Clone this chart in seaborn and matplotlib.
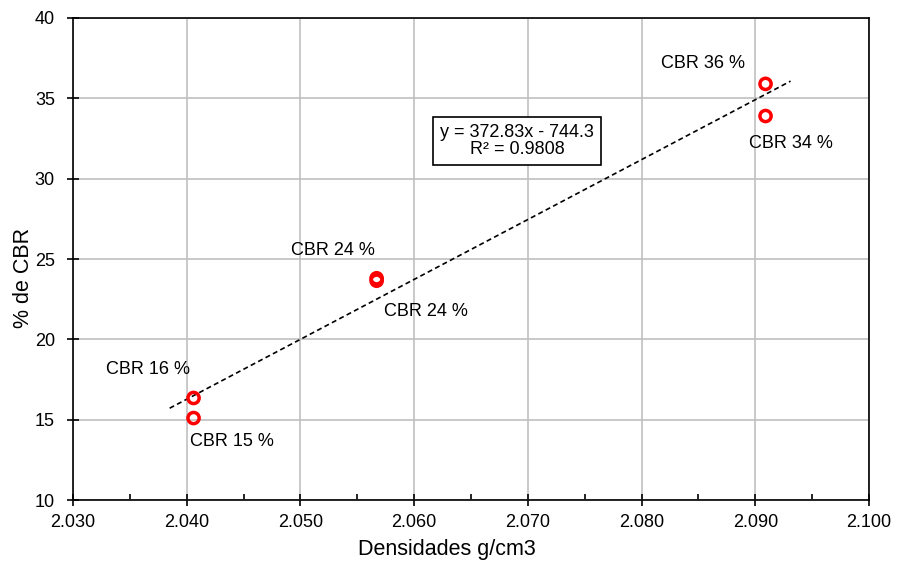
import matplotlib
matplotlib.use("Agg")
import matplotlib.pyplot as plt
import seaborn as sns
import pandas as pd
import numpy as np
from matplotlib.ticker import MultipleLocator, FuncFormatter

densidades = [2.0406, 2.0406, 2.0567, 2.0567, 2.0909, 2.0909]
cbr = [16.35, 15.1, 23.8, 23.65, 35.9, 33.9]
etiquetas = ["CBR 16 %", "CBR 15 %", "CBR 24 %", "CBR 24 %", "CBR 36 %", "CBR 34 %"]
label_pos = [(2.0366, 18.1), (2.0440, 13.67), (2.0529, 25.5), (2.0610, 21.76), (2.0854, 37.19), (2.0931, 32.2)]
slope = [372.83]
intercept = [-744.3]
trend_x = [2.0385, 2.0931]

sns.set_theme(style="white")
plt.rcParams['font.family'] = ['Liberation Sans', 'DejaVu Sans']

fig = plt.figure(figsize=(8.97, 5.66), dpi=100)
ax = fig.add_axes([0.0814, 0.1166, 0.8874, 0.8516])

df = pd.DataFrame({"Densidades": densidades, "CBR": cbr})
tx = np.array(trend_x)
ty = slope[0] * tx + intercept[0]
sns.lineplot(x=tx, y=ty, ax=ax, color="black", linestyle=(0, (3, 2)), linewidth=1.2)
sns.scatterplot(data=df, x="Densidades", y="CBR", ax=ax, s=65, facecolor="none",
                edgecolor="#ff0000", linewidth=2.5, marker="o", zorder=5)

for (lx, ly), t in zip(label_pos, etiquetas):
    ax.text(lx, ly, t, fontsize=13, ha="center", va="center", color="black")

ax.text(2.06905, 32.34, "y = 372.83x - 744.3\nR² = 0.9808", fontsize=13, ha="center", va="center",
        multialignment="center", linespacing=1.0, color="black",
        bbox=dict(boxstyle="square,pad=0.4", facecolor="white", edgecolor="black", linewidth=1.2))

ax.set_xlim(2.030, 2.100)
ax.set_ylim(10, 40)
ax.xaxis.set_major_locator(MultipleLocator(0.010))
ax.xaxis.set_minor_locator(MultipleLocator(0.005))
ax.yaxis.set_major_locator(MultipleLocator(5))
ax.xaxis.set_major_formatter(FuncFormatter(lambda v, p: f"{v:.3f}"))
ax.grid(True, which="major", color="#c0c0c0", linewidth=1.2)
ax.set_axisbelow(True)
for s in ax.spines.values():
    s.set_color("black")
    s.set_linewidth(1.2)
ax.tick_params(axis="both", which="major", direction="inout", length=8, width=1.2,
               labelsize=13, colors="black")
ax.tick_params(axis="y", which="major", pad=9)
ax.tick_params(axis="x", which="major", pad=6)
ax.tick_params(axis="x", which="minor", direction="in", length=4, width=1.2, colors="black", bottom=True)
ax.tick_params(bottom=True, left=True)
ax.set_xlabel("Densidades g/cm3", fontsize=15.5, color="black", labelpad=6)
ax.set_ylabel("% de CBR", fontsize=15.5, color="black", labelpad=0.5)
ax.xaxis.label.set_x(0.47)
ax.yaxis.label.set_y(0.46)

fig.savefig("out.png", dpi=100)
